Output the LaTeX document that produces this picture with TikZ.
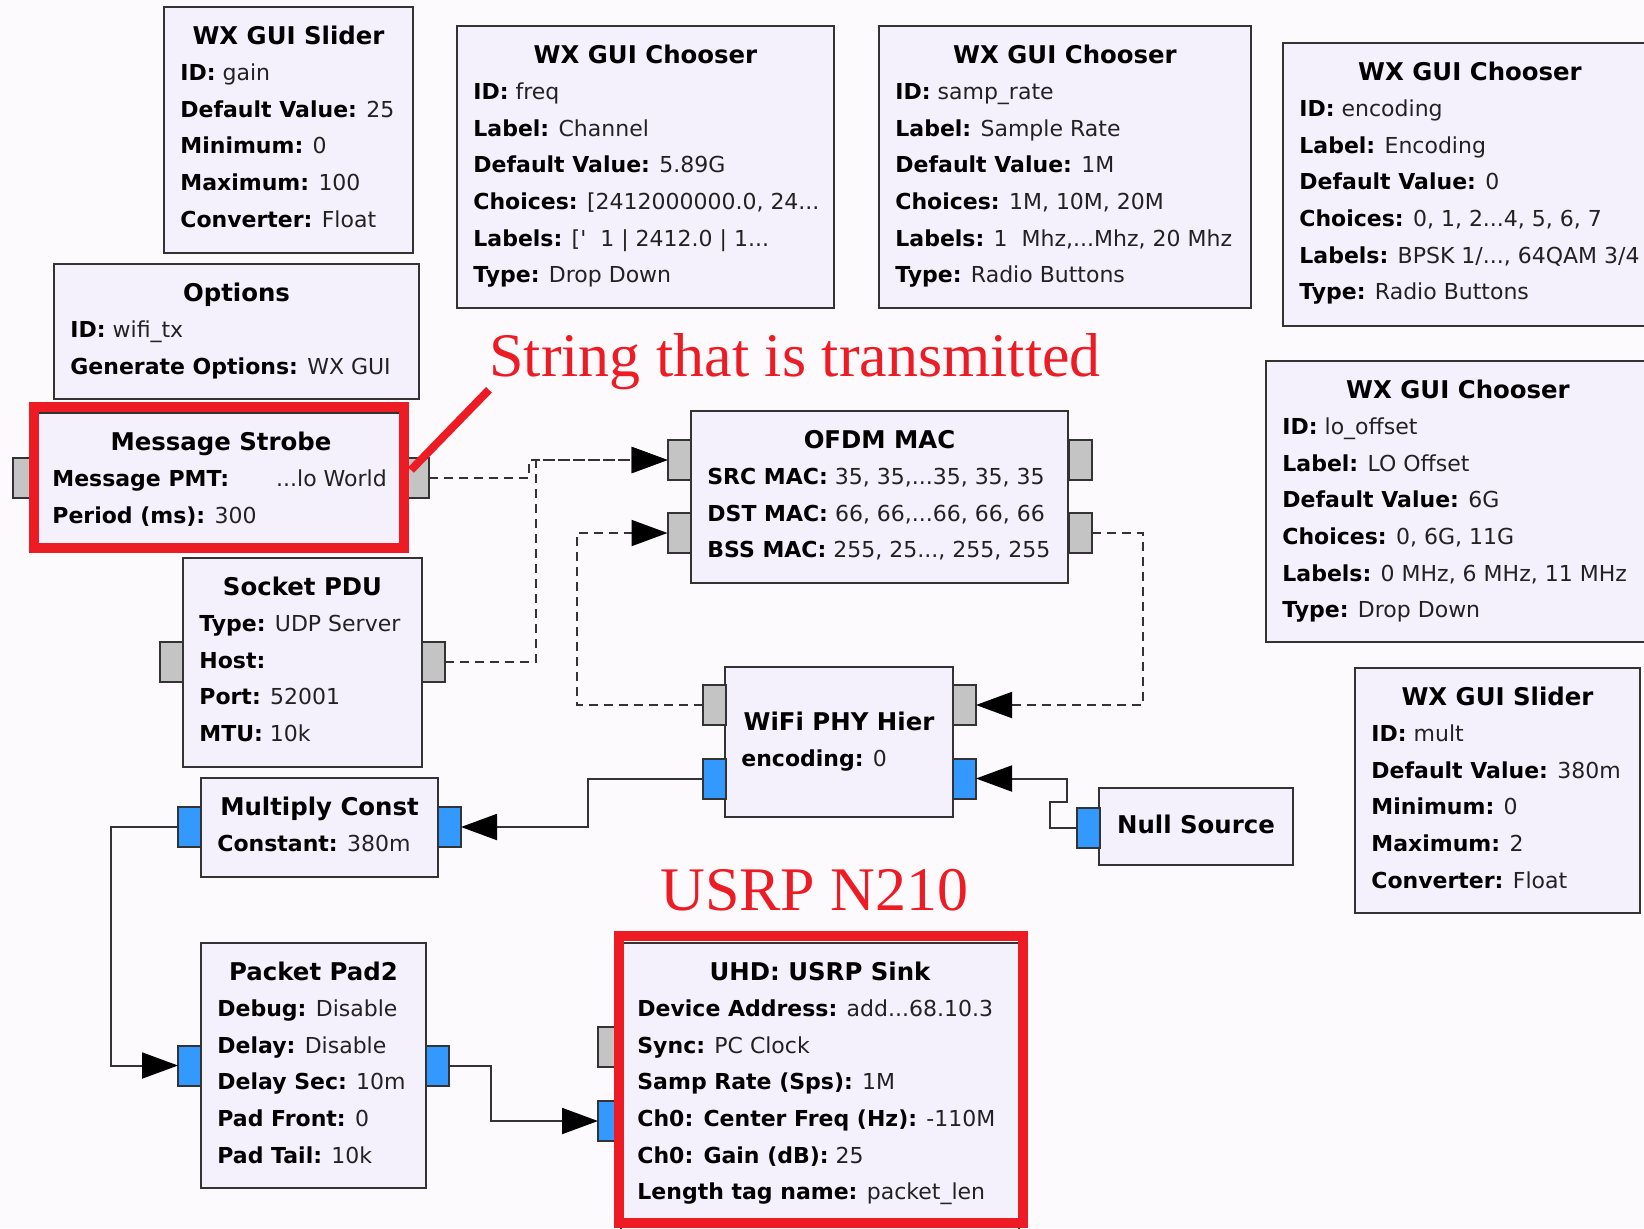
\documentclass[tikz,border=0pt]{standalone}
\usepackage{fontspec}
\setmainfont{DejaVu Sans}
\newfontfamily\annotfont{Liberation Serif}
\usetikzlibrary{arrows.meta}

\definecolor{bgcol}{HTML}{FDFAFD}
\definecolor{blockfill}{HTML}{F4F0FC}
\definecolor{edgecol}{HTML}{333333}
\definecolor{portgrey}{HTML}{C4C4C4}
\definecolor{portblue}{HTML}{3399FF}
\definecolor{hilite}{HTML}{ED1C24}
\definecolor{valcol}{HTML}{222222}

% parameter lines of a block, one per \cr, first baseline on top
\newcommand\blines[1]{\vtop{\baselineskip=18.3pt\lineskiplimit=-100pt\lineskip=0pt\halign{##\hfil\cr#1\crcr}}}
% bold key followed by its value
\newcommand\grcp[2]{\textbf{#1} {\color{valcol}#2}}
% name, x1, y1, x2, y2, title baseline, title, parameter lines
\newcommand\grcblock[8]{%
  \node[blockbox, minimum width={(#4-#2)*0.5pt}, minimum height={(#5-#3)*0.5pt}]
    (#1) at ({(#2+#4)/2},{(#3+#5)/2}) {};
  \node[blocktitle] (#1-title) at ({(#2+#4)/2},#6) {#7};
  \node[blockrows] (#1-rows) at ({#2+16},{#6+36.6}) {\blines{#8}};
}

\tikzset{
  blockbox/.style={draw=edgecol, line width=1pt, fill=blockfill, inner sep=0pt, outer sep=0pt},
  blocktitle/.style={anchor=base, inner sep=0pt, font=\bfseries\fontsize{12.2}{14}\selectfont},
  blockrows/.style={anchor=base west, inner sep=0pt, font=\fontsize{11}{13}\selectfont},
  port/.style={draw=edgecol, line width=1pt, inner sep=0pt, outer sep=0pt,
    minimum width=11.5pt, minimum height=20pt},
  msgport/.style={port, fill=portgrey},
  strport/.style={port, fill=portblue},
  tip/.style={-{Triangle[length=18pt,width=13pt,color=black]}},
  msgline/.style={draw=edgecol, line width=1pt, dash pattern=on 4.5pt off 3pt, tip},
  strline/.style={draw=edgecol, line width=1pt, tip},
  hibox/.style={draw=hilite, line width=5pt},
  annot/.style={text=hilite, font=\annotfont\fontsize{31}{36}\selectfont, inner sep=0pt, anchor=base west},
}

\begin{document}
\begin{tikzpicture}[x=0.5pt, y=-0.5pt]
\useasboundingbox (0,0) rectangle (1644,1228);
\clip (0,0) rectangle (1644,1228);
\fill[bgcol] (0,0) rectangle (1644,1228);

% ---------- variable and option blocks ----------
\grcblock{gain}{164}{7}{413}{253}{44}{WX GUI Slider}{%
  \grcp{ID:}{gain}\cr
  \grcp{Default Value:}{25}\cr
  \grcp{Minimum:}{0}\cr
  \grcp{Maximum:}{100}\cr
  \grcp{Converter:}{Float}}

\grcblock{freq}{457}{26}{834}{308}{63}{WX GUI Chooser}{%
  \grcp{ID:}{freq}\cr
  \grcp{Label:}{Channel}\cr
  \grcp{Default Value:}{5.89G}\cr
  \grcp{Choices:}{[2412000000.0, 24...}\cr
  \grcp{Labels:}{[\textquotesingle\ \ 1 | 2412.0 | 1...}\cr
  \grcp{Type:}{Drop Down}}

\grcblock{samprate}{879}{26}{1251}{308}{63}{WX GUI Chooser}{%
  \grcp{ID:}{samp\_rate}\cr
  \grcp{Label:}{Sample Rate}\cr
  \grcp{Default Value:}{1M}\cr
  \grcp{Choices:}{1M, 10M, 20M}\cr
  \grcp{Labels:}{1\ \ Mhz,...Mhz, 20 Mhz}\cr
  \grcp{Type:}{Radio Buttons}}

\grcblock{encoding}{1283}{43}{1657}{326}{80}{WX GUI Chooser}{%
  \grcp{ID:}{encoding}\cr
  \grcp{Label:}{Encoding}\cr
  \grcp{Default Value:}{0}\cr
  \grcp{Choices:}{0, 1, 2...4, 5, 6, 7}\cr
  \grcp{Labels:}{BPSK 1/..., 64QAM 3/4}\cr
  \grcp{Type:}{Radio Buttons}}

\grcblock{looffset}{1266}{361}{1650}{642}{398}{WX GUI Chooser}{%
  \grcp{ID:}{lo\_offset}\cr
  \grcp{Label:}{LO Offset}\cr
  \grcp{Default Value:}{6G}\cr
  \grcp{Choices:}{0, 6G, 11G}\cr
  \grcp{Labels:}{0 MHz, 6 MHz, 11 MHz}\cr
  \grcp{Type:}{Drop Down}}

\grcblock{mult}{1355}{668}{1640}{913}{705}{WX GUI Slider}{%
  \grcp{ID:}{mult}\cr
  \grcp{Default Value:}{380m}\cr
  \grcp{Minimum:}{0}\cr
  \grcp{Maximum:}{2}\cr
  \grcp{Converter:}{Float}}

\grcblock{options}{54}{264}{419}{399}{301}{Options}{%
  \grcp{ID:}{wifi\_tx}\cr
  \grcp{Generate Options:}{WX GUI}}

% ---------- flow graph blocks ----------
\grcblock{strobe}{36}{413}{406}{548}{450}{Message Strobe}{%
  \grcp{Message PMT:}{\hspace*{20pt}...lo World}\cr
  \grcp{Period (ms):}{300}}

\grcblock{socket}{183}{558}{422}{767}{595}{Socket PDU}{%
  \grcp{Type:}{UDP Server}\cr
  \grcp{Host:}{}\cr
  \grcp{Port:}{52001}\cr
  \grcp{MTU:}{10k}}

\grcblock{mac}{691}{411}{1068}{583}{448}{OFDM MAC}{%
  \grcp{SRC MAC:}{35, 35,...35, 35, 35}\cr
  \grcp{DST MAC:}{66, 66,...66, 66, 66}\cr
  \grcp{BSS MAC:}{255, 25..., 255, 255}}

\grcblock{phy}{725}{667}{953}{817}{730}{WiFi PHY Hier}{%
  \grcp{encoding:}{0}}

\grcblock{null}{1099}{788}{1293}{865}{833}{Null Source}{}

\grcblock{multc}{201}{778}{438}{877}{815}{Multiply Const}{%
  \grcp{Constant:}{380m}}

\grcblock{pad}{201}{943}{426}{1188}{980}{Packet Pad2}{%
  \grcp{Debug:}{Disable}\cr
  \grcp{Delay:}{Disable}\cr
  \grcp{Delay Sec:}{10m}\cr
  \grcp{Pad Front:}{0}\cr
  \grcp{Pad Tail:}{10k}}

\grcblock{usrp}{621}{943}{1019}{1240}{980}{UHD: USRP Sink}{%
  \grcp{Device Address:}{add...68.10.3}\cr
  \grcp{Sync:}{PC Clock}\cr
  \grcp{Samp Rate (Sps):}{1M}\cr
  \grcp{Ch0: Center Freq (Hz):}{-110M}\cr
  \grcp{Ch0: Gain (dB):}{25}\cr
  \grcp{Length tag name:}{packet\_len}}

% ---------- ports ----------
\node[msgport] (strobe-in)  at (24.5,478) {};
\node[msgport] (strobe-out) at (417.5,478) {};
\node[msgport] (socket-in)  at (171.5,662) {};
\node[msgport] (socket-out) at (433.5,662) {};
\node[msgport] (mac-in1)  at (679,460) {};
\node[msgport] (mac-in2)  at (679,533) {};
\node[msgport] (mac-out1) at (1080,460) {};
\node[msgport] (mac-out2) at (1080,533) {};
\node[msgport] (phy-mout) at (714,705) {};
\node[msgport] (phy-min)  at (964.5,705) {};
\node[strport] (phy-sout) at (714,778.5) {};
\node[strport] (phy-sin)  at (964.5,778.5) {};
\node[strport] (null-out) at (1088,827.5) {};
\node[strport] (multc-out) at (189.5,827) {};
\node[strport] (multc-in)  at (449.5,827) {};
\node[strport] (pad-in)  at (189.5,1065.5) {};
\node[strport] (pad-out) at (437.5,1065.5) {};
\node[msgport] (usrp-cmd) at (609.5,1047) {};
\node[strport] (usrp-in)  at (609.5,1121) {};

% ---------- connections ----------
\draw[msgline] (strobe-out.east) -- ++(100,0) |- (mac-in1.west);
\draw[msgline] (socket-out.east) -- ++(91,0) |- (mac-in1.west);
\draw[msgline] (mac-out2.east) -- ++(51,0) |- (phy-min.east);
\draw[msgline] (phy-mout.west) -- ++(-126,0) |- (mac-in2.west);
\draw[strline] (phy-sout.west) -- ++(-115,0) |- (multc-in.east);
\draw[strline] (multc-out.west) -- ++(-67,0) |- (pad-in.west);
\draw[strline] (pad-out.east) -- ++(42,0) |- (usrp-in.west);
\draw[strline] (null-out.west) -- ++(-27,0) -- ++(0,-26) -- ++(17,0) |- (phy-sin.east);

% ---------- highlights and notes ----------
\draw[hibox] (34,407) rectangle (404,548);
\draw[hibox] (619,936) rectangle (1023,1223);
\node[annot] (note-string) at (489,376) {String that is transmitted};
\node[annot] (note-usrp) at (660,910) {USRP N210};
\coordinate (note-tip) at (411,470);
\draw[draw=hilite, line width=4pt] (note-string.south west) -- (note-tip);
\end{tikzpicture}
\end{document}
